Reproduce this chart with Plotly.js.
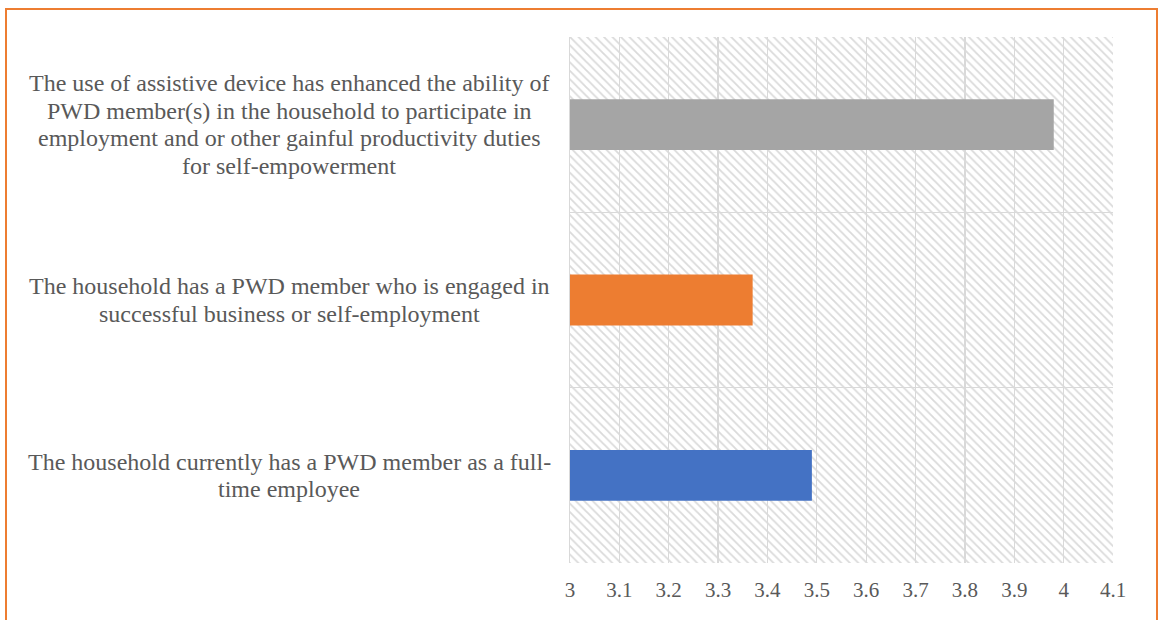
<!DOCTYPE html>
<html>
<head>
<meta charset="utf-8">
<script src="https://cdn.plot.ly/plotly-3.0.1.min.js"></script>
<style>
  html, body { margin: 0; padding: 0; background: #ffffff; }
  #chart { position: absolute; left: 0; top: 0; width: 1158px; height: 620px; }
  #frame { position: absolute; left: 5px; top: 8px; width: 1149px; height: 620px;
           border: 2px solid #ED7D31; pointer-events: none; }
</style>
</head>
<body>
<div id="chart"></div>
<div id="frame"></div>
<script>
// Categories (bottom to top)
const categories = [
  "The household currently has a PWD member as a full-<br>time employee",
  "The household has a PWD member who is engaged in<br>successful business or self-employment",
  "The use of assistive device has enhanced the ability of<br>PWD member(s) in the household to participate in<br>employment and or other gainful productivity duties<br>for self-empowerment"
];
const values = [3.49, 3.37, 3.98];
const barColors = ["#4472C4", "#ED7D31", "#A5A5A5"];
const xTicks = [3, 3.1, 3.2, 3.3, 3.4, 3.5, 3.6, 3.7, 3.8, 3.9, 4, 4.1];
const xTickLabels = ["3", "3.1", "3.2", "3.3", "3.4", "3.5", "3.6", "3.7", "3.8", "3.9", "4", "4.1"];
const xMin = 3, xMax = 4.1;

const textColor = "#595959";
const fontFamily = "Liberation Serif, Times New Roman, serif";
const labelSize = 24;
const labelLineHeight = 27.6;

// Hatched plot background, drawn as a full-width band behind each category
const background = {
  type: "bar",
  orientation: "h",
  y: categories,
  x: categories.map(() => xMax),
  width: 1,
  marker: {
    color: "rgba(0,0,0,0)",
    line: { width: 0 },
    pattern: { shape: "\\", fillmode: "replace", fgcolor: "#dadada",
               bgcolor: "rgba(0,0,0,0)", size: 6, solidity: 0.3 }
  },
  hoverinfo: "skip",
  showlegend: false
};

const bars = {
  type: "bar",
  orientation: "h",
  y: categories,
  x: values,
  width: 0.29,
  marker: { color: barColors, line: { width: 0 } },
  hoverinfo: "x",
  showlegend: false
};

// Category labels: one centred annotation per line, tighter line spacing
const annotations = [];
categories.forEach((c) => {
  const lines = c.split("<br>");
  const n = lines.length;
  lines.forEach((ln, i) => {
    annotations.push({
      xref: "paper", yref: "y",
      x: -0.5166, y: c,
      xanchor: "center", yanchor: "middle",
      yshift: ((n - 1) / 2 - i) * labelLineHeight,
      text: ln, align: "center", showarrow: false,
      font: { family: fontFamily, size: labelSize, color: textColor }
    });
  });
});

const layout = {
  width: 1158, height: 620,
  margin: { l: 570, r: 45, t: 37, b: 57 },
  paper_bgcolor: "#ffffff",
  plot_bgcolor: "#ffffff",
  barmode: "overlay",
  font: { family: fontFamily, size: 21, color: textColor },
  xaxis: {
    range: [xMin, xMax],
    tickvals: xTicks, ticktext: xTickLabels,
    showgrid: true, gridcolor: "#d9d9d9", gridwidth: 1.3,
    zeroline: false, showline: false,
    ticks: "", ticklabelstandoff: 12,
    tickfont: { family: fontFamily, size: 21, color: textColor }
  },
  yaxis: {
    type: "category",
    categoryorder: "array", categoryarray: categories,
    range: [-0.5, 2.5],
    tickson: "boundaries",
    showgrid: true, gridcolor: "#d9d9d9", gridwidth: 1.3,
    showticklabels: false, ticks: "",
    zeroline: false, showline: true, linecolor: "#d9d9d9", linewidth: 1.3
  },
  annotations: annotations
};

Plotly.newPlot("chart", [background, bars], layout, { displayModeBar: false, staticPlot: true });
</script>
</body>
</html>
